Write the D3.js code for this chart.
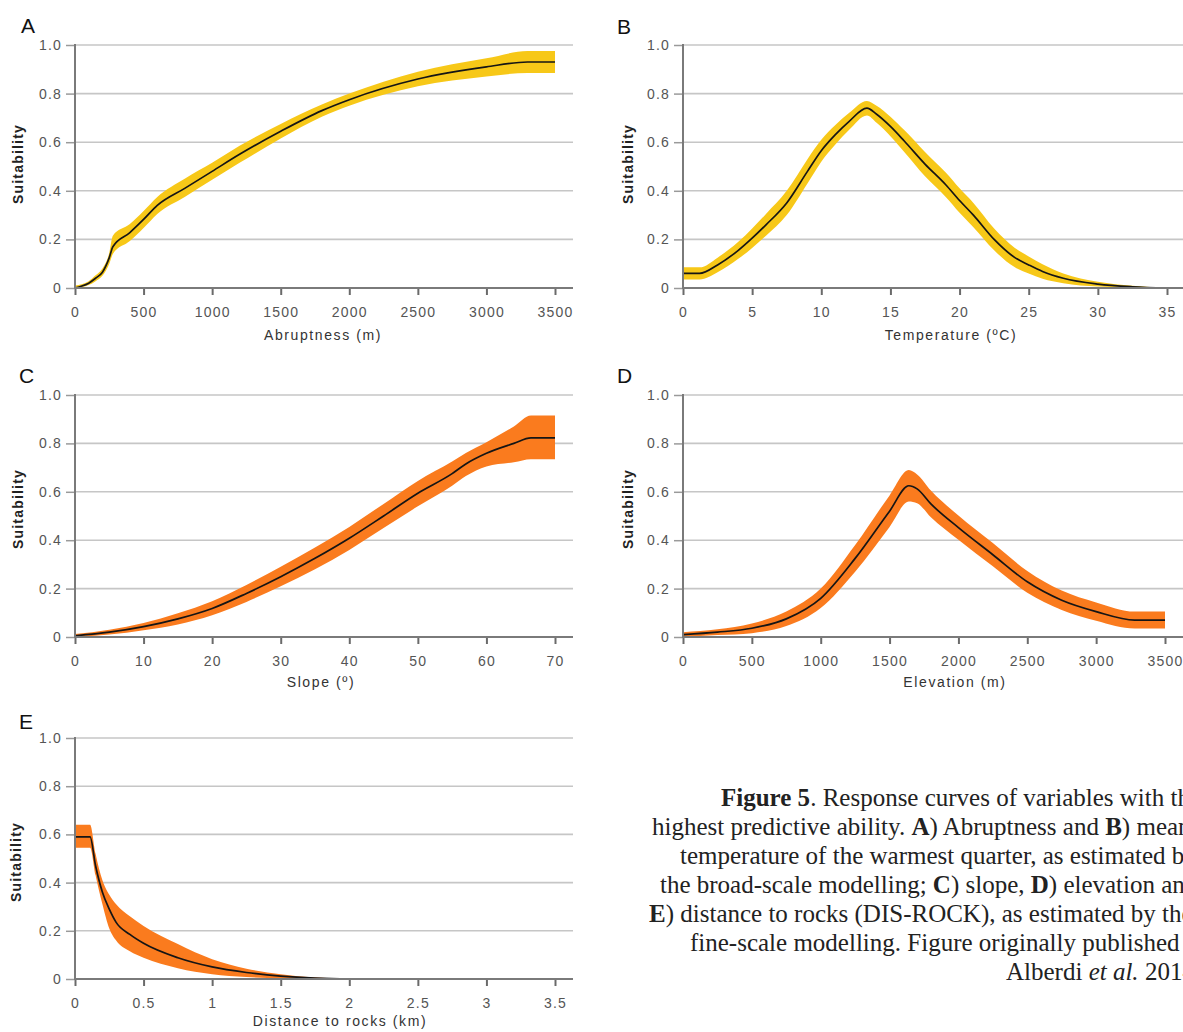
<!DOCTYPE html>
<html>
<head>
<meta charset="utf-8">
<script src="https://cdn.jsdelivr.net/npm/d3@7/dist/d3.min.js"></script>
<style>
  html, body { margin: 0; padding: 0; background: #fff; }
  svg { display: block; }
</style>
</head>
<body>
<svg id="chart" width="1183" height="1032"></svg>
<script>
// ---------------- DATA ----------------
// A) Abruptness (m)
const aX  = [0, 50, 100, 150, 200, 250, 276, 400, 500, 600, 800, 1000, 1200, 1500, 1800, 2000, 2500, 3000, 3300, 3500];
const aY  = [0.0, 0.008, 0.02, 0.04, 0.065, 0.125, 0.17, 0.228, 0.282, 0.34, 0.41, 0.48, 0.55, 0.645, 0.73, 0.775, 0.86, 0.91, 0.93, 0.93];
const aLo = [0.0, 0.003, 0.012, 0.028, 0.05, 0.1, 0.14, 0.193, 0.247, 0.305, 0.375, 0.445, 0.515, 0.615, 0.705, 0.75, 0.83, 0.87, 0.885, 0.885];
const aHi = [0.01, 0.015, 0.028, 0.052, 0.08, 0.145, 0.215, 0.263, 0.317, 0.375, 0.45, 0.515, 0.585, 0.675, 0.755, 0.8, 0.89, 0.945, 0.975, 0.975];
const aTicks = [0, 500, 1000, 1500, 2000, 2500, 3000, 3500];

// B) Temperature (ºC)
const bX  = [0, 1.2, 2.5, 4, 5, 6, 7.5, 9, 10, 11, 12, 13.3, 14, 15, 16, 17.5, 19, 20, 21, 22.5, 24, 25, 26, 27.5, 30, 32.5, 35];
const bY  = [0.06, 0.06, 0.095, 0.155, 0.205, 0.26, 0.35, 0.48, 0.565, 0.63, 0.685, 0.74, 0.715, 0.665, 0.605, 0.51, 0.425, 0.36, 0.3, 0.2, 0.125, 0.095, 0.068, 0.04, 0.016, 0.005, 0.0];
const bLo = [0.035, 0.035, 0.065, 0.12, 0.165, 0.215, 0.3, 0.43, 0.52, 0.59, 0.65, 0.71, 0.68, 0.625, 0.56, 0.46, 0.375, 0.31, 0.25, 0.155, 0.085, 0.06, 0.038, 0.02, 0.006, 0.001, 0.0];
const bHi = [0.085, 0.085, 0.125, 0.19, 0.245, 0.305, 0.4, 0.53, 0.61, 0.67, 0.72, 0.77, 0.75, 0.705, 0.65, 0.56, 0.475, 0.41, 0.35, 0.245, 0.165, 0.13, 0.098, 0.06, 0.026, 0.009, 0.0];
const bTicks = [0, 5, 10, 15, 20, 25, 30, 35];

// C) Slope (º)
const cX  = [0, 5, 10, 15, 20, 25, 30, 35, 40, 45, 50, 55, 57, 60, 64, 66.5, 70];
const cY  = [0.005, 0.02, 0.043, 0.075, 0.118, 0.18, 0.249, 0.325, 0.408, 0.5, 0.594, 0.675, 0.715, 0.759, 0.8, 0.823, 0.823];
const cLo = [0.0, 0.01, 0.028, 0.052, 0.09, 0.145, 0.21, 0.28, 0.36, 0.45, 0.54, 0.625, 0.665, 0.705, 0.722, 0.735, 0.735];
const cHi = [0.012, 0.03, 0.058, 0.098, 0.148, 0.215, 0.29, 0.37, 0.455, 0.55, 0.645, 0.725, 0.76, 0.805, 0.87, 0.915, 0.915];
const cTicks = [0, 10, 20, 30, 40, 50, 60, 70];

// D) Elevation (m)
const dX  = [0, 250, 500, 750, 1000, 1250, 1500, 1640, 1700, 1800, 2000, 2250, 2500, 2750, 3000, 3280, 3500];
const dY  = [0.01, 0.02, 0.036, 0.075, 0.16, 0.325, 0.52, 0.625, 0.612, 0.55, 0.452, 0.34, 0.228, 0.152, 0.105, 0.07, 0.07];
const dLo = [0.0, 0.008, 0.016, 0.045, 0.12, 0.27, 0.455, 0.56, 0.553, 0.495, 0.402, 0.292, 0.183, 0.112, 0.067, 0.035, 0.035];
const dHi = [0.02, 0.032, 0.056, 0.105, 0.2, 0.38, 0.585, 0.69, 0.672, 0.605, 0.502, 0.388, 0.273, 0.192, 0.143, 0.105, 0.105];
const dTicks = [0, 500, 1000, 1500, 2000, 2500, 3000, 3500];

// E) Distance to rocks (km)
const eX  = [0, 0.11, 0.15, 0.2, 0.25, 0.3, 0.4, 0.5, 0.75, 1.0, 1.25, 1.5, 1.75, 2.0, 2.5, 3.0, 3.5];
const eY  = [0.59, 0.59, 0.47, 0.36, 0.29, 0.235, 0.185, 0.148, 0.088, 0.05, 0.027, 0.012, 0.004, 0.001, 0, 0, 0];
const eLo = [0.545, 0.545, 0.43, 0.31, 0.21, 0.16, 0.115, 0.088, 0.045, 0.02, 0.008, 0.002, 0.0, 0.001, 0, 0, 0];
const eHi = [0.64, 0.64, 0.52, 0.41, 0.35, 0.31, 0.26, 0.22, 0.145, 0.082, 0.043, 0.02, 0.006, 0.001, 0, 0, 0];
const eTicks = [0, 0.5, 1, 1.5, 2, 2.5, 3, 3.5];

const yTicks = [0, 0.2, 0.4, 0.6, 0.8, 1.0];
const panelLetters = ["A", "B", "C", "D", "E"];
const xTitles = ["Abruptness (m)", "Temperature (ºC)", "Slope (º)", "Elevation (m)", "Distance to rocks (km)"];
const yTitle = "Suitability";

const captionLines = [
  [["Figure 5", "b"], [". Response curves of variables with the", ""]],
  [["highest predictive ability. ", ""], ["A", "b"], [") Abruptness and ", ""], ["B", "b"], [") mean", ""]],
  [["temperature of the warmest quarter, as estimated by", ""]],
  [["the broad-scale modelling; ", ""], ["C", "b"], [") slope, ", ""], ["D", "b"], [") elevation and", ""]],
  [["E", "b"], [") distance to rocks (DIS-ROCK), as estimated by the", ""]],
  [["fine-scale modelling. Figure originally published in", ""]],
  [["Alberdi ", ""], ["et al.", "i"], [" 2014.", ""]]
];

// ---------------- LAYOUT / STYLE ----------------
const YELLOW = "#f7c818";
const ORANGE = "#fa7b1e";
const layout = [
  { left: 75,  right: 555,  gridRight: 573,  top: 45,  bottom: 288, letterX: 21,  letterY: 33,  titleX: 323, titleDy: 52, yTitleX: 23,  yTitleY: 164 },
  { left: 683, right: 1167, gridRight: 1183, top: 45,  bottom: 288, letterX: 617, letterY: 34,  titleX: 951, titleDy: 52, yTitleX: 633, yTitleY: 164 },
  { left: 75,  right: 555,  gridRight: 573,  top: 395, bottom: 637, letterX: 19,  letterY: 383, titleX: 321, titleDy: 50, yTitleX: 23,  yTitleY: 509 },
  { left: 683, right: 1165, gridRight: 1183, top: 395, bottom: 637, letterX: 617, letterY: 383, titleX: 955, titleDy: 50, yTitleX: 633, yTitleY: 509 },
  { left: 75,  right: 555,  gridRight: 573,  top: 738, bottom: 979, letterX: 19,  letterY: 729, titleX: 340, titleDy: 47, yTitleX: 21,  yTitleY: 862 }
];

const panels = [
  { x: aX, y: aY, lo: aLo, hi: aHi, ticks: aTicks, domain: [0, 3500], color: YELLOW },
  { x: bX, y: bY, lo: bLo, hi: bHi, ticks: bTicks, domain: [0, 35],   color: YELLOW },
  { x: cX, y: cY, lo: cLo, hi: cHi, ticks: cTicks, domain: [0, 70],   color: ORANGE },
  { x: dX, y: dY, lo: dLo, hi: dHi, ticks: dTicks, domain: [0, 3500], color: ORANGE },
  { x: eX, y: eY, lo: eLo, hi: eHi, ticks: eTicks, domain: [0, 3.5],  color: ORANGE }
];

const svg = d3.select("#chart");
const SANS = "'Liberation Sans', Arial, Helvetica, sans-serif";

panels.forEach((p, i) => {
  const L = layout[i];
  const g = svg.append("g");
  const xs = d3.scaleLinear().domain(p.domain).range([L.left, L.right]);
  const ys = d3.scaleLinear().domain([0, 1]).range([L.bottom, L.top]);

  // gridlines
  g.selectAll("line.grid").data(yTicks.filter(t => t > 0)).enter().append("line")
    .attr("x1", L.left).attr("x2", L.gridRight)
    .attr("y1", d => ys(d)).attr("y2", d => ys(d))
    .attr("stroke", "#c6c6c6").attr("stroke-width", 1.6);

  const rows = p.x.map((v, k) => ({ x: v, y: p.y[k], lo: p.lo[k], hi: p.hi[k] }));

  // confidence band
  g.append("path").datum(rows)
    .attr("d", d3.area().x(d => xs(d.x)).y0(d => ys(d.lo)).y1(d => ys(d.hi)).curve(d3.curveMonotoneX))
    .attr("fill", p.color).attr("stroke", "none");

  // mean curve
  g.append("path").datum(rows)
    .attr("d", d3.line().x(d => xs(d.x)).y(d => ys(d.y)).curve(d3.curveMonotoneX))
    .attr("fill", "none").attr("stroke", "#151515").attr("stroke-width", 1.7);

  // x axis
  const xAxis = d3.axisBottom(xs).tickValues(p.ticks).tickSize(7).tickSizeOuter(0).tickPadding(12)
    .tickFormat(d => String(d));
  const gx = g.append("g").attr("transform", `translate(0,${L.bottom})`).call(xAxis);
  gx.select(".domain").remove();
  gx.append("line").attr("x1", L.left - 1).attr("x2", L.gridRight).attr("y1", 0).attr("y2", 0)
    .attr("stroke", "#7a7a7a").attr("stroke-width", 2);
  gx.selectAll(".tick line").attr("stroke", "#6a6a6a").attr("stroke-width", 2);
  gx.selectAll(".tick text").attr("fill", "#555").style("font-family", SANS)
    .style("font-size", "14px").style("letter-spacing", "1.2px");

  // y axis
  const yAxis = d3.axisLeft(ys).tickValues(yTicks).tickSize(9).tickSizeOuter(0).tickPadding(4)
    .tickFormat(d => d === 0 ? "0" : d.toFixed(1));
  const gy = g.append("g").attr("transform", `translate(${L.left},0)`).call(yAxis);
  gy.select(".domain").remove();
  gy.append("line").attr("x1", 0).attr("x2", 0).attr("y1", ys(1) - 1).attr("y2", ys(0) + 1)
    .attr("stroke", "#7a7a7a").attr("stroke-width", 2);
  gy.selectAll(".tick line").attr("stroke", "#9a9a9a").attr("stroke-width", 1.5);
  gy.selectAll(".tick text").attr("fill", "#555").style("font-family", SANS)
    .style("font-size", "14px").style("letter-spacing", "1.2px");

  // x title
  g.append("text").attr("x", L.titleX).attr("y", L.bottom + L.titleDy)
    .attr("text-anchor", "middle").attr("fill", "#333")
    .style("font-family", SANS).style("font-size", "14px").style("letter-spacing", "1.6px")
    .text(xTitles[i]);

  // y title
  g.append("text").attr("transform", `translate(${L.yTitleX},${L.yTitleY}) rotate(-90)`)
    .attr("text-anchor", "middle").attr("fill", "#222")
    .style("font-family", SANS).style("font-size", "14px").style("font-weight", "bold")
    .style("letter-spacing", "1.2px")
    .text(yTitle);

  // panel letter
  g.append("text").attr("x", L.letterX).attr("y", L.letterY).attr("fill", "#111")
    .style("font-family", SANS).style("font-size", "21px")
    .text(panelLetters[i]);
});

// caption
const capX = [721, 652, 680, 660, 649, 690, 1006];
const capY = [806, 835, 864, 893, 922, 951, 980];
const cap = svg.append("g").attr("fill", "#222")
  .style("font-family", "'Liberation Serif', 'Times New Roman', serif").style("font-size", "25px");
captionLines.forEach((line, k) => {
  const t = cap.append("text").attr("x", capX[k]).attr("y", capY[k]);
  line.forEach(([s, st]) => {
    const ts = t.append("tspan").text(s);
    if (st === "b") ts.style("font-weight", "bold");
    if (st === "i") ts.style("font-style", "italic");
  });
});
</script>
</body>
</html>
